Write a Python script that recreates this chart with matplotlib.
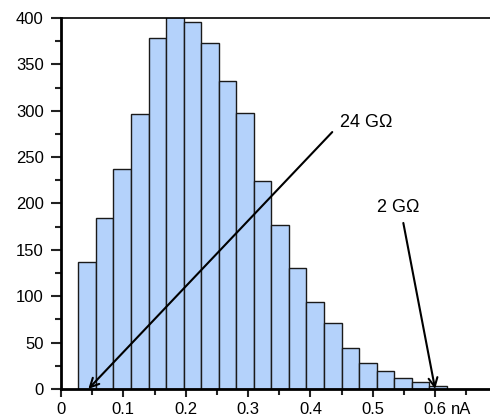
import matplotlib.pyplot as plt
import numpy as np

plt.rcParams['font.family'] = ['Liberation Sans', 'DejaVu Sans']

bin_start = 0.0278
bin_width = 0.02814
counts = [137, 184, 237, 296, 378, 401, 396, 373, 332, 298, 224,
          177, 130, 94, 71, 44, 28, 19, 12, 8, 3]
xticks = [0, 0.1, 0.2, 0.3, 0.4, 0.5, 0.6]
xticklabels = ['0', '0.1', '0.2', '0.3', '0.4', '0.5', '0.6']
yticks = [0, 50, 100, 150, 200, 250, 300, 350, 400]

fig = plt.figure(figsize=(4.9, 4.18), dpi=100)
ax = fig.add_axes([0.1245, 0.0694, 0.8755, 0.8876])

lefts = bin_start + bin_width * np.arange(len(counts))
ax.bar(lefts, counts, width=bin_width, align='edge',
       color='#b4d2fb', edgecolor='#1a1a1a', linewidth=1.0, zorder=2)

ax.set_xlim(0, 0.688)
ax.set_ylim(0, 400)
ax.set_xticks(xticks)
ax.set_xticklabels(xticklabels)
ax.set_xticks(np.arange(0.05, 0.7, 0.1), minor=True)
ax.set_yticks(yticks)
ax.set_yticks(np.arange(25, 400, 50), minor=True)
ax.tick_params(axis='both', which='both', direction='out', width=1.5,
               color='#222222', labelsize=12)
ax.tick_params(axis='y', which='major', length=7.5, pad=5)
ax.tick_params(axis='y', which='minor', length=4.5)
ax.tick_params(axis='x', which='major', length=5.5, pad=4)
ax.tick_params(axis='x', which='minor', length=4)
for s in ['left', 'bottom']:
    ax.spines[s].set_linewidth(2)
ax.spines['top'].set_linewidth(1.2)
ax.spines['right'].set_visible(False)

# unit label after the last tick label, same line
ax.annotate('nA', xy=(0.6, 0), xycoords=('data', 'axes fraction'),
            xytext=(11.5, -9.5), textcoords='offset points',
            fontsize=12, ha='left', va='top', annotation_clip=False)

arrow = dict(arrowstyle='->', color='black', lw=1.5,
             mutation_scale=16, shrinkA=0, shrinkB=0)
ax.annotate('', xy=(0.0438, 0), xytext=(0.435, 277), arrowprops=arrow,
            annotation_clip=False, zorder=5)
ax.text(0.448, 287, '24 G\u03a9', fontsize=13, va='center', ha='left')
ax.annotate('', xy=(0.600, 0), xytext=(0.549, 179), arrowprops=arrow,
            annotation_clip=False, zorder=5)
ax.text(0.507, 196, '2 G\u03a9', fontsize=13, va='center', ha='left')

fig.savefig('out.png', dpi=100)
